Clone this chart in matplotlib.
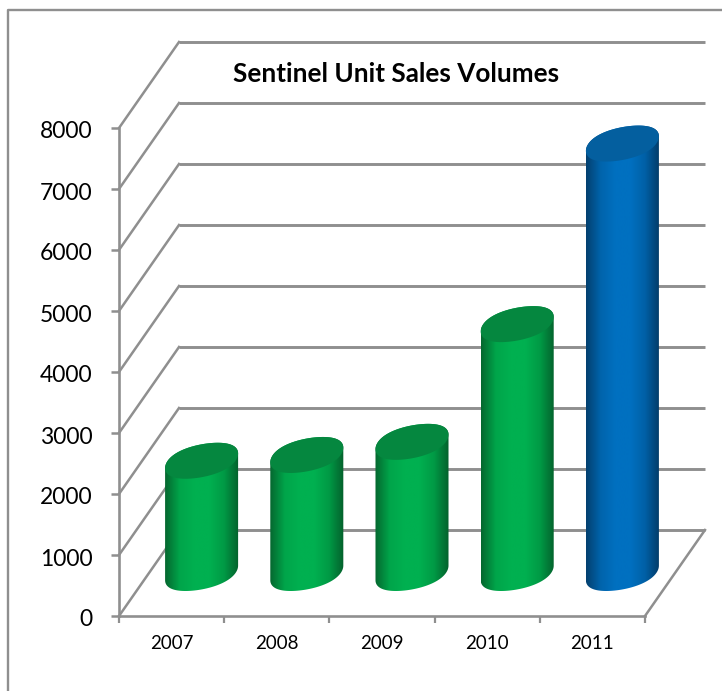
import numpy as np
import matplotlib
matplotlib.use("Agg")
import matplotlib.pyplot as plt
from matplotlib.colors import LinearSegmentedColormap
from matplotlib.lines import Line2D
from matplotlib.patches import Polygon
from matplotlib.transforms import Affine2D

years = ["2007", "2008", "2009", "2010", "2011"]
units = [1840, 1935, 2150, 4080, 7040]
y_ticks = [0, 1000, 2000, 3000, 4000, 5000, 6000, 7000, 8000]

# edge, mid and far edge shades for the cylinder bodies, plus the flat cap colour
green = ["#05672f", "#00a54a", "#00b050", "#00b050", "#009a45", "#04602c"]
blue = ["#04406f", "#0064ac", "#0070c0", "#0070c0", "#0060a6", "#033a66"]
body_shades = [green, green, green, green, blue]
cap_colours = ["#05873f", "#05873f", "#05873f", "#05873f", "#045f9f"]

line_col = "#8f8f8f"
W, H = 722, 691
plt.rcParams["font.family"] = ["Lato", "DejaVu Sans"]

fig = plt.figure(figsize=(W / 100, H / 100), dpi=100)
ax = fig.add_axes([119 / W, 1 - 616 / H, 526 / W, 488 / H])
ax.patch.set_visible(False)

# depth of the 3d box, expressed in axis units (the box is just a shear)
depth_x = 60 / 526 * 5
depth_y = 86 / 488 * 8000

# walls: back lines and the diagonals running to the front axis
for v in y_ticks:
    ax.plot([depth_x, 5 + depth_x], [v + depth_y, v + depth_y], color=line_col, lw=2.1,
            clip_on=False, zorder=1, solid_capstyle="butt")
    ax.plot([0, depth_x], [v, v + depth_y], color=line_col, lw=1.8, clip_on=False, zorder=1)
ax.plot([5, 5 + depth_x], [0, depth_y], color=line_col, lw=1.8, clip_on=False, zorder=1)


def ellipse(cx, cy, a, b, t):
    # skewed rim, the cos(3t) term keeps the ends from going pointy
    k = 0.025
    return cx + a * (np.cos(t) - k * np.cos(3 * t)) / (1 - k), cy + b * np.sin(t + np.radians(24))


a = 0.347
b = 295
t_left = np.pi
t_right = 0.0
for i, val in enumerate(units):
    cx = i + 0.5 + depth_x / 2
    base = depth_y / 2
    top = base + val

    # outline: left side down, around the lower rim, right side up, over the top rim
    low = np.linspace(t_left, t_left + np.pi, 60)
    up = np.linspace(t_right, t_left, 60)
    bx, by = ellipse(cx, base, a, b, low)
    ux, uy = ellipse(cx, top, a, b, up)
    outline = np.column_stack([np.r_[bx, ux], np.r_[by, uy]])
    body = Polygon(outline, closed=True, facecolor="none", edgecolor="none", clip_on=False, zorder=3)
    ax.add_patch(body)

    cmap = LinearSegmentedColormap.from_list("body", body_shades[i])
    grad = np.linspace(0, 1, 256).reshape(1, -1)
    im = ax.imshow(grad, cmap=cmap, aspect="auto", interpolation="bilinear", zorder=3,
                   extent=[cx - a, cx + a, base - 2 * b, top + 2 * b])
    # images get cut at the axes box by default, the last cylinder sticks out of it
    im.set_clip_box(fig.bbox)
    im.set_clip_path(body)

    tt = np.linspace(0, 2 * np.pi, 180)
    capx, capy = ellipse(cx, top, a, b, tt)
    ax.add_patch(Polygon(np.column_stack([capx, capy]), closed=True, facecolor=cap_colours[i],
                         edgecolor="none", clip_on=False, zorder=4))

ax.set_xlim(0, 5)
ax.set_ylim(0, 8000)

for side in ("top", "right"):
    ax.spines[side].set_visible(False)
for side in ("left", "bottom"):
    ax.spines[side].set_color(line_col)
    ax.spines[side].set_linewidth(1.9)

ax.set_yticks(y_ticks)
ax.set_xticks(range(6))
ax.set_xticklabels([])
ax.set_xticks([i + 0.5 for i in range(5)], minor=True)
ax.set_xticklabels(years, minor=True)
ax.tick_params(axis="y", length=6, width=1.8, color=line_col, labelsize=16.5, pad=13, labelcolor="black")
ax.tick_params(axis="x", which="major", length=5, width=1.6, color=line_col)
ax.tick_params(axis="x", which="minor", length=0, labelsize=13.5, pad=14, labelcolor="black")

# value labels sit a touch lower than the tick they belong to
for label in ax.get_yticklabels():
    label.set_transform(label.get_transform() + Affine2D().translate(0, -2))

fig.text(396 / W, 1 - 73.5 / H, "Sentinel Unit Sales Volumes", ha="center", va="center",
         fontsize=18.8, fontweight="bold", color="black")

# outer chart frame, runs off the right and bottom edges
fig.add_artist(Line2D([8 / W, 8 / W, 1], [0, 1 - 9.5 / H, 1 - 9.5 / H], color=line_col, lw=1.7))

fig.savefig("out.png", dpi=100)
